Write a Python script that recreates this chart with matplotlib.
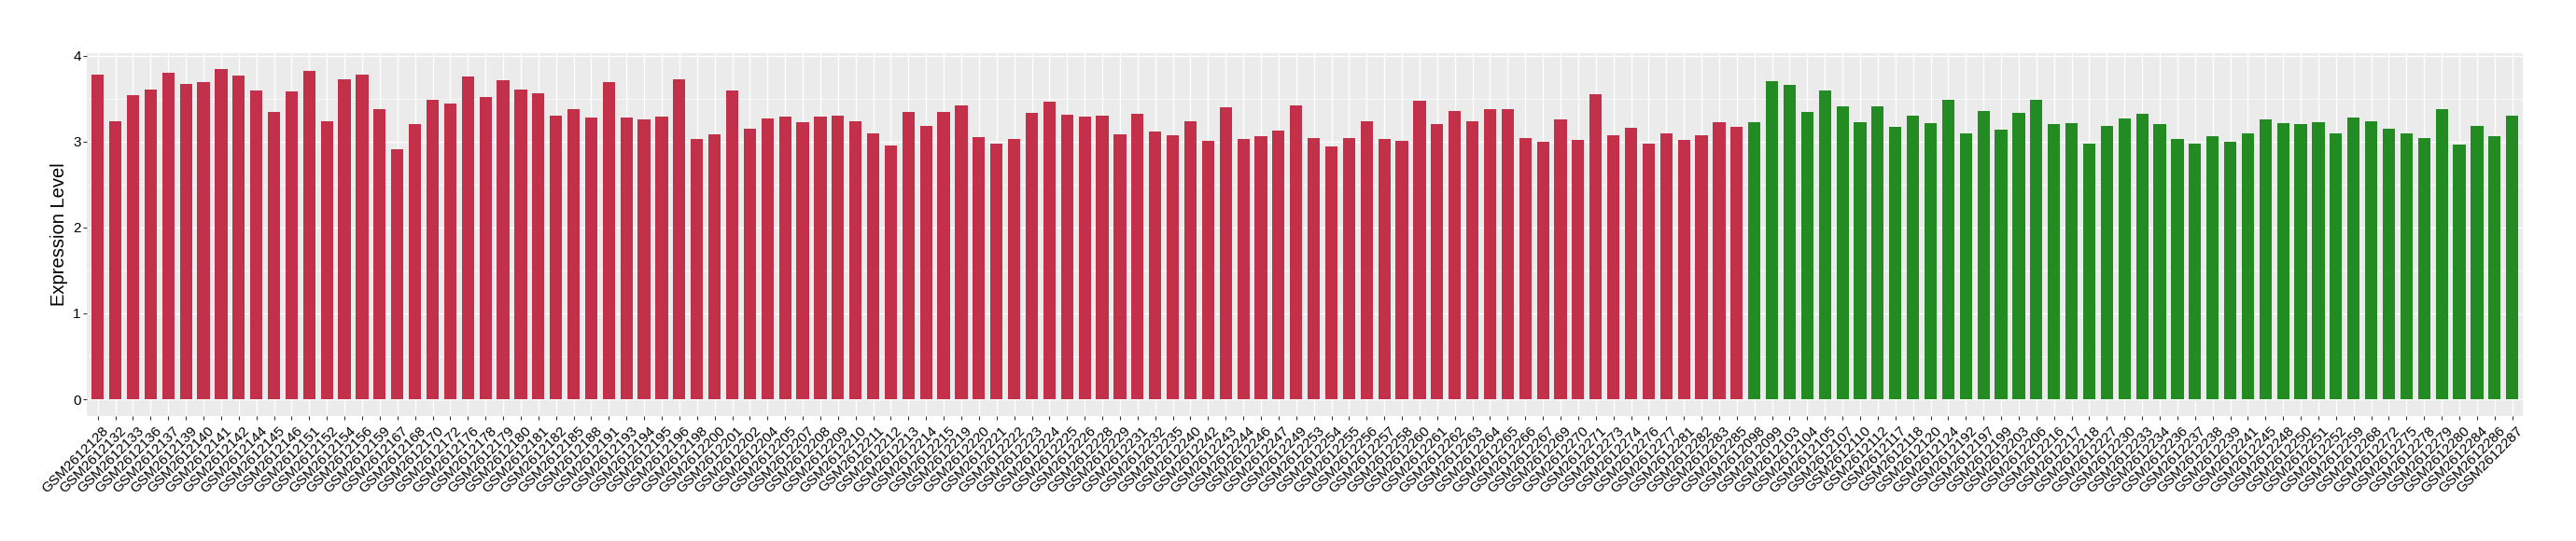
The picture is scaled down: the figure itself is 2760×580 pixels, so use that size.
import matplotlib
matplotlib.use("Agg")
import matplotlib.pyplot as plt
import matplotlib.transforms as mtransforms
from matplotlib.ticker import MultipleLocator

plt.rcParams['font.family'] = ['Liberation Sans', 'DejaVu Sans']

# ---------------- data ----------------
tumor_ids = ["128", "132", "133", "136", "137", "139", "140", "141", "142", "144",
             "145", "146", "151", "152", "154", "156", "159", "167", "168", "170",
             "172", "176", "178", "179", "180", "181", "182", "185", "188", "191",
             "193", "194", "195", "196", "198", "200", "201", "202", "204", "205",
             "207", "208", "209", "210", "211", "212", "213", "214", "215", "219",
             "220", "221", "222", "223", "224", "225", "226", "228", "229", "231",
             "232", "235", "240", "242", "243", "244", "246", "247", "249", "253",
             "254", "255", "256", "257", "258", "260", "261", "262", "263", "264",
             "265", "266", "267", "269", "270", "271", "273", "274", "276", "277",
             "281", "282", "283", "285"]
tumor_values = [3.78, 3.24, 3.54, 3.61, 3.80, 3.67, 3.69, 3.84, 3.77, 3.59,
                3.34, 3.58, 3.82, 3.24, 3.73, 3.78, 3.38, 2.91, 3.20, 3.49,
                3.44, 3.76, 3.52, 3.71, 3.61, 3.56, 3.30, 3.38, 3.28, 3.69,
                3.28, 3.26, 3.29, 3.72, 3.03, 3.08, 3.59, 3.15, 3.27, 3.29,
                3.22, 3.29, 3.30, 3.24, 3.10, 2.95, 3.35, 3.18, 3.34, 3.42,
                3.05, 2.98, 3.03, 3.33, 3.46, 3.31, 3.29, 3.30, 3.08, 3.32,
                3.12, 3.07, 3.24, 3.01, 3.40, 3.03, 3.06, 3.13, 3.42, 3.04,
                2.94, 3.04, 3.24, 3.03, 3.01, 3.48, 3.20, 3.36, 3.24, 3.38,
                3.38, 3.04, 3.00, 3.26, 3.02, 3.55, 3.07, 3.16, 2.98, 3.09,
                3.02, 3.07, 3.22, 3.17]

normal_ids = ["098", "099", "103", "104", "105", "107", "110", "112", "117", "118",
              "120", "124", "192", "197", "199", "203", "206", "216", "217", "218",
              "227", "230", "233", "234", "236", "237", "238", "239", "241", "245",
              "248", "250", "251", "252", "259", "268", "272", "275", "278", "279",
              "280", "284", "286", "287"]
normal_values = [3.22, 3.70, 3.66, 3.35, 3.59, 3.41, 3.22, 3.41, 3.17, 3.30,
                 3.21, 3.49, 3.09, 3.36, 3.14, 3.33, 3.49, 3.20, 3.21, 2.98,
                 3.18, 3.27, 3.32, 3.20, 3.03, 2.98, 3.06, 3.00, 3.10, 3.26,
                 3.21, 3.20, 3.22, 3.10, 3.28, 3.24, 3.15, 3.09, 3.04, 3.38,
                 2.96, 3.18, 3.06, 3.30]

sample_prefix = "GSM2612"
y_label = "Expression Level"
tumor_color = "#C3304A"
normal_color = "#228B22"

# ---------------- build ----------------
labels = [sample_prefix + s for s in tumor_ids + normal_ids]
values = tumor_values + normal_values
colors = [tumor_color] * len(tumor_values) + [normal_color] * len(normal_values)
n = len(values)
x = list(range(n))

W, H = 2760, 580
fig = plt.figure(figsize=(W / 100, H / 100), dpi=100)
left, right = 93.4 / W, 2703 / W
top, bottom = 56.7 / H, 445.7 / H
ax = fig.add_axes([left, 1 - bottom, right - left, bottom - top])

ax.set_facecolor("#EBEBEB")
for s in ax.spines.values():
    s.set_visible(False)

ax.bar(x, values, width=0.7, color=colors, zorder=3)

ax.set_xlim(-0.6, n - 0.4)
ymax = max(values)
ax.set_ylim(-0.05 * ymax, ymax * 1.05)

ax.yaxis.set_major_locator(MultipleLocator(1))
ax.yaxis.set_minor_locator(MultipleLocator(0.5))
ax.set_axisbelow(True)
ax.grid(which="major", axis="both", color="white", linewidth=1.0, zorder=0)
ax.grid(which="minor", axis="y", color="white", linewidth=0.5, zorder=0)

ax.set_xticks(x)
ax.set_xticklabels(labels, rotation=45, ha="right", va="top",
                   rotation_mode="anchor", fontsize=11, color="black")
ax.tick_params(axis="both", which="major", direction="out", length=3,
               width=0.8, color="#333333", pad=1.8, labelsize=11,
               labelcolor="black")
ax.tick_params(axis="y", which="minor", length=0)

offset = mtransforms.ScaledTranslation(4.5 / 100, -2 / 100, fig.dpi_scale_trans)
for lbl in ax.get_xticklabels():
    lbl.set_transform(lbl.get_transform() + offset)

ax.set_ylabel(y_label, fontsize=14.5, color="black")
ax.yaxis.set_label_coords((73 - 93.4) / (2703 - 93.4), 0.5)

fig.savefig("out.png", dpi=100)
